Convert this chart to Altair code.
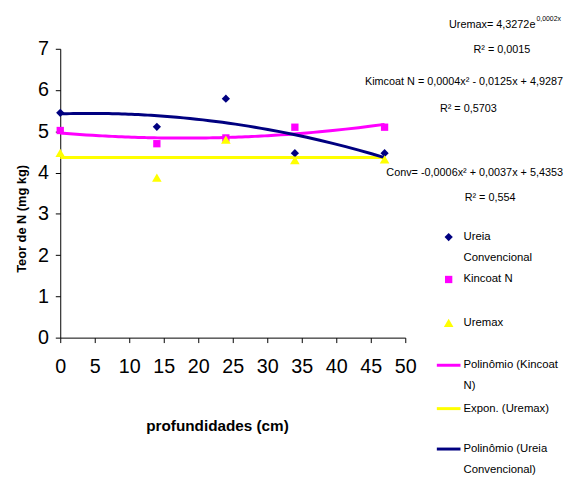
import altair as alt
import pandas as pd

# ---- data ----
depth = [0, 14, 24, 34, 47]
ureia = [5.45, 5.11, 5.79, 4.47, 4.47]
kincoat = [5.02, 4.70, 4.84, 5.10, 5.10]
uremax = [4.48, 3.88, 4.80, 4.30, 4.32]

series_names = ["Ureia Convencional", "Kincoat N", "Uremax"]
series_colors = ["#000080", "#FF00FF", "#FFFF00"]
series_shapes = ["diamond", "square", "triangle-up"]
series_sizes = [70, 55, 95]

x_ticks = list(range(0, 51, 5))
y_ticks = list(range(0, 8))

equation_lines = [
    "Uremax= 4,3272e",
    "R² = 0,0015",
    "Kimcoat N = 0,0004x² - 0,0125x + 4,9287",
    "R² = 0,5703",
    "Conv= -0,0006x² + 0,0037x + 5,4353",
    "R² = 0,554",
]
exp_superscript = "0,0002x"

legend_lines = [
    ["Ureia", "Convencional"],
    ["Kincoat N"],
    ["Uremax"],
    ["Polinômio (Kincoat", "N)"],
    ["Expon. (Uremax)"],
    ["Polinômio (Ureia", "Convencional)"],
]

rows = []
for name, vals in zip(series_names, [ureia, kincoat, uremax]):
    for d, v in zip(depth, vals):
        rows.append({"serie": name, "prof": d, "teor": v})
df = pd.DataFrame(rows)

FONT = "Liberation Sans, Arial, sans-serif"
W, H = 350, 293

X = alt.X(
    "prof:Q",
    scale=alt.Scale(domain=[0, 50], nice=False, zero=False),
    axis=alt.Axis(
        values=x_ticks, title="profundidades (cm)", titleX=159, titleY=89,
        titleBaseline="middle", titleAlign="center", titleFontSize=15.5,
        labelPadding=14, labelFlush=False, labelOverlap=False,
    ),
)
Y = alt.Y(
    "teor:Q",
    scale=alt.Scale(domain=[0, 7], nice=False),
    axis=alt.Axis(
        values=y_ticks, title="Teor de N (mg kg)", titleX=-39, titleY=172,
        titleBaseline="middle", titleAlign="center", titleFontSize=13,
        labelPadding=7, labelFlush=False, labelOverlap=False,
    ),
)

base = alt.Chart(df)
layers = []

# trendlines
fits = [
    ("Kincoat N", "#FF00FF", "poly"),
    ("Uremax", "#FFFF00", "exp"),
    ("Ureia Convencional", "#000080", "poly"),
]
for name, col, method in fits:
    kw = {"method": method, "extent": [0, 47]}
    if method == "poly":
        kw["order"] = 2
    layers.append(
        base.transform_filter(alt.datum.serie == name)
        .transform_regression("prof", "teor", **kw)
        .mark_line(color=col, strokeWidth=3)
        .encode(x=X, y=Y)
    )

# points
for name, col, shp, sz in zip(series_names, series_colors, series_shapes, series_sizes):
    layers.append(
        base.transform_filter(alt.datum.serie == name)
        .mark_point(shape=shp, filled=True, size=sz, color=col, opacity=1)
        .encode(x=X, y=Y)
    )


def text(txt, px, py, size=11, align="left", baseline="middle"):
    return alt.Chart(pd.DataFrame({"t": [txt]})).mark_text(
        align=align, baseline=baseline, font=FONT, fontSize=size, color="black"
    ).encode(text="t:N", x=alt.value(px), y=alt.value(py))


# equations (top right)
eq_pos = [(482, -24, "right"), (448, 1, "center"), (510, 34, "right"),
          (414, 61, "center"), (510, 126, "right"), (436, 151, "center")]
for txt, (px, py, al) in zip(equation_lines, eq_pos):
    layers.append(text(txt, px, py, align=al))
layers.append(text(exp_superscript, 483, -30, size=7, align="left"))

# legend
sym_x = 394
item_y = [191, 234, 278, 321, 365, 406]
for i, lines in enumerate(legend_lines):
    y0 = item_y[i]
    if i < 3:
        layers.append(
            alt.Chart(pd.DataFrame({"k": [0]}))
            .mark_point(shape=series_shapes[i], filled=True, size=series_sizes[i],
                        color=series_colors[i], opacity=1)
            .encode(x=alt.value(sym_x), y=alt.value(y0))
        )
    else:
        col = {3: "#FF00FF", 4: "#FFFF00", 5: "#000080"}[i]
        layers.append(
            alt.Chart(pd.DataFrame({"k": [0]}))
            .mark_rule(color=col, strokeWidth=3)
            .encode(x=alt.value(382), x2=alt.value(406), y=alt.value(y0))
        )
    for j, ln in enumerate(lines):
        layers.append(text(ln, 409, y0 + 21 * j, size=11.5))

chart = (
    alt.layer(*layers)
    .properties(
        width=W, height=H,
        autosize=alt.AutoSizeParams(type="none"),
        padding={"left": 53, "top": 38, "right": 161, "bottom": 140},
        background="white",
    )
    .configure_view(stroke=None)
    .configure_axis(
        grid=False, domainColor="black", tickColor="black", tickSize=5,
        labelFont=FONT, labelFontSize=20, labelColor="black",
        titleFont=FONT, titleFontWeight="bold", titleColor="black",
    )
)

chart.save("out.html", embed_options={"renderer": "svg", "actions": False})
